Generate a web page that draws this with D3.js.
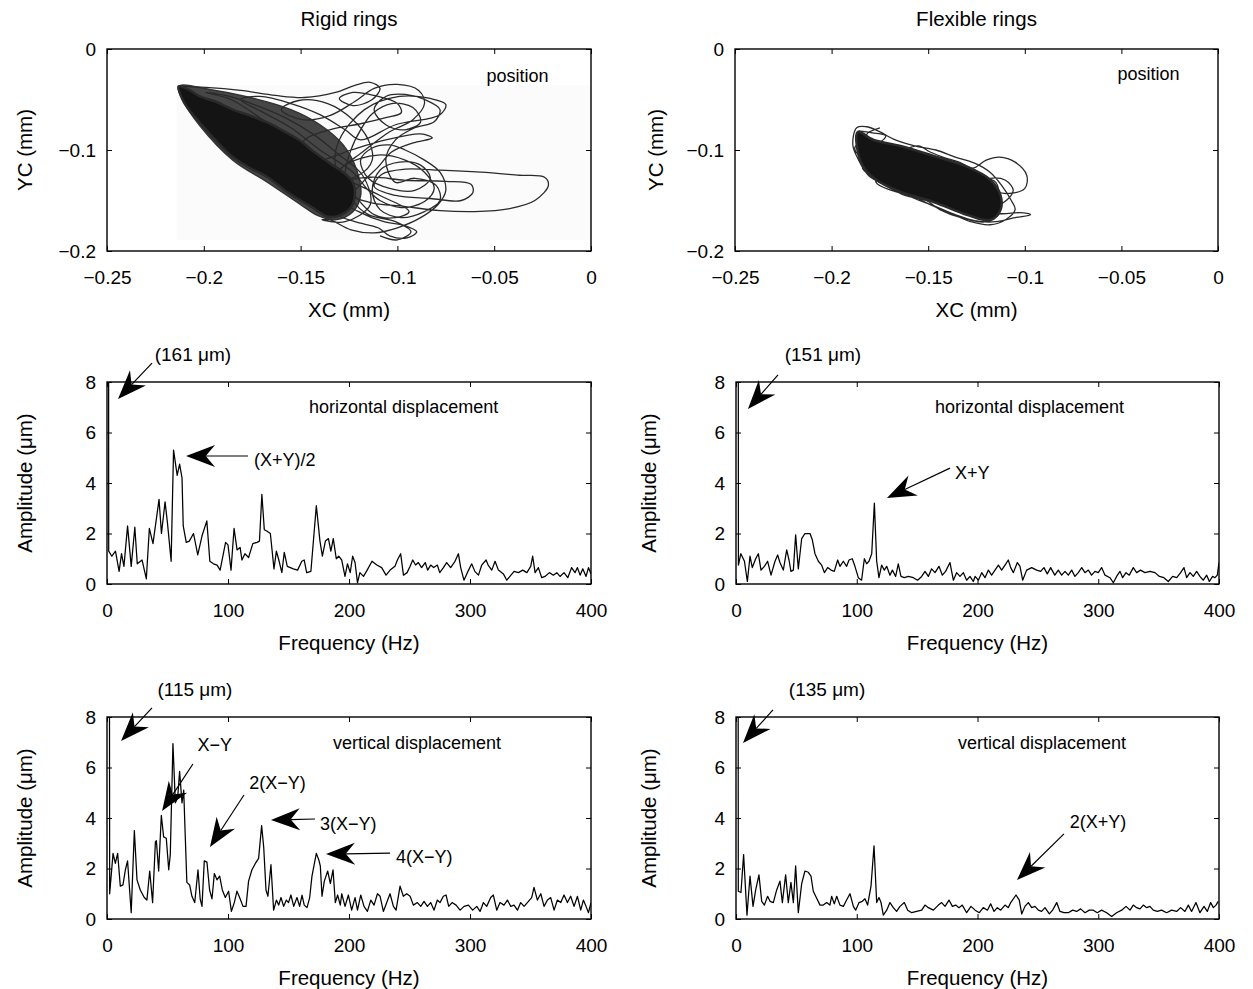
<!DOCTYPE html>
<html><head><meta charset="utf-8">
<script src="https://cdn.jsdelivr.net/npm/d3@7"></script>
<style>
body{margin:0;background:#fff;}
svg text{font-family:"Liberation Sans",Arial,Helvetica,sans-serif;fill:#000;}
</style></head><body>
<svg id="chart" width="1253" height="989"></svg>
<script>
// ---------------- DATA ----------------
const orbitXTicks = [-0.25,-0.2,-0.15,-0.1,-0.05,0];
const orbitYTicks = [0,-0.1,-0.2];
const freqTicks = [0,100,200,300,400];
const ampTicks = [0,2,4,6,8];

// rigid rings: dense envelope, densest core, trajectory loops (XC, YC in mm)
const rigidHalo = [[-0.213,-0.037],[-0.197,-0.040],[-0.176,-0.048],[-0.155,-0.060],[-0.140,-0.075],[-0.128,-0.095],[-0.121,-0.120],[-0.119,-0.145],[-0.123,-0.161],[-0.132,-0.169],[-0.141,-0.165],[-0.150,-0.154],[-0.167,-0.132],[-0.185,-0.110],[-0.202,-0.076],[-0.211,-0.050]];
const rigidCore = [[-0.213,-0.037],[-0.211,-0.050],[-0.207,-0.062],[-0.202,-0.073],[-0.194,-0.090],[-0.185,-0.107],[-0.176,-0.118],[-0.167,-0.127],[-0.158,-0.140],[-0.150,-0.150],[-0.143,-0.158],[-0.136,-0.166],[-0.130,-0.165],[-0.124,-0.157],[-0.122,-0.145],[-0.123,-0.132],[-0.128,-0.122],[-0.135,-0.113],[-0.143,-0.102],[-0.150,-0.091],[-0.159,-0.081],[-0.167,-0.073],[-0.176,-0.066],[-0.185,-0.060],[-0.194,-0.052],[-0.202,-0.047],[-0.208,-0.040]];
const rigidOrbit = [[-0.213,-0.037],[-0.199,-0.038],[-0.181,-0.041],[-0.163,-0.046],[-0.148,-0.048],[-0.132,-0.043],[-0.122,-0.036],[-0.114,-0.033],[-0.109,-0.039],[-0.113,-0.050],[-0.123,-0.056],[-0.130,-0.049],[-0.123,-0.043],[-0.112,-0.046],[-0.100,-0.054],[-0.098,-0.063],[-0.106,-0.068],[-0.119,-0.074],[-0.135,-0.080],[-0.148,-0.090],[-0.150,-0.105],[-0.140,-0.110],[-0.124,-0.100],[-0.106,-0.090],[-0.088,-0.084],[-0.082,-0.088],[-0.092,-0.093],[-0.103,-0.102],[-0.110,-0.117],[-0.118,-0.132],[-0.123,-0.145],[-0.114,-0.152],[-0.096,-0.156],[-0.078,-0.160],[-0.060,-0.161],[-0.042,-0.158],[-0.029,-0.150],[-0.022,-0.135],[-0.024,-0.127],[-0.037,-0.125],[-0.057,-0.122],[-0.078,-0.120],[-0.096,-0.119],[-0.108,-0.124],[-0.112,-0.136],[-0.101,-0.145],[-0.083,-0.148],[-0.067,-0.150],[-0.061,-0.142],[-0.062,-0.134],[-0.075,-0.131],[-0.096,-0.130],[-0.114,-0.127],[-0.127,-0.132],[-0.130,-0.148],[-0.120,-0.161],[-0.107,-0.171],[-0.096,-0.175],[-0.090,-0.181],[-0.095,-0.187],[-0.104,-0.185],[-0.110,-0.177],[-0.122,-0.171],[-0.132,-0.163],[-0.137,-0.145],[-0.131,-0.122],[-0.118,-0.102],[-0.104,-0.082],[-0.092,-0.070],[-0.086,-0.054],[-0.089,-0.041],[-0.100,-0.035],[-0.112,-0.039],[-0.122,-0.052],[-0.135,-0.066],[-0.149,-0.070],[-0.160,-0.060],[-0.151,-0.051],[-0.136,-0.054],[-0.123,-0.070],[-0.115,-0.090],[-0.113,-0.110],[-0.120,-0.125],[-0.134,-0.130],[-0.127,-0.115],[-0.110,-0.105],[-0.096,-0.110],[-0.086,-0.122],[-0.081,-0.138],[-0.086,-0.151],[-0.098,-0.157],[-0.109,-0.150],[-0.115,-0.140],[-0.123,-0.122],[-0.140,-0.100],[-0.155,-0.078],[-0.170,-0.062],[-0.181,-0.050],[-0.171,-0.047],[-0.155,-0.054],[-0.140,-0.065],[-0.127,-0.080],[-0.119,-0.090],[-0.101,-0.075],[-0.078,-0.065],[-0.075,-0.055],[-0.083,-0.049],[-0.099,-0.047],[-0.117,-0.060],[-0.130,-0.090],[-0.132,-0.115],[-0.124,-0.140],[-0.112,-0.164],[-0.101,-0.167],[-0.094,-0.161],[-0.109,-0.145],[-0.135,-0.120],[-0.155,-0.090],[-0.171,-0.068],[-0.186,-0.050],[-0.199,-0.043],[-0.189,-0.046],[-0.174,-0.055],[-0.158,-0.068],[-0.143,-0.085],[-0.130,-0.105],[-0.118,-0.125],[-0.114,-0.154],[-0.127,-0.171],[-0.139,-0.169],[-0.135,-0.169],[-0.124,-0.179],[-0.112,-0.182],[-0.100,-0.177],[-0.088,-0.167],[-0.079,-0.154],[-0.075,-0.140],[-0.078,-0.122],[-0.086,-0.110],[-0.096,-0.100],[-0.104,-0.095],[-0.113,-0.098],[-0.119,-0.110],[-0.115,-0.128],[-0.104,-0.138],[-0.091,-0.140],[-0.083,-0.128],[-0.088,-0.115],[-0.099,-0.112],[-0.109,-0.120],[-0.113,-0.140],[-0.109,-0.159],[-0.098,-0.167],[-0.086,-0.161],[-0.078,-0.150],[-0.080,-0.135],[-0.091,-0.128],[-0.101,-0.132],[-0.106,-0.110],[-0.101,-0.090],[-0.091,-0.078],[-0.081,-0.072],[-0.078,-0.060],[-0.086,-0.050],[-0.096,-0.045],[-0.106,-0.047],[-0.112,-0.060],[-0.106,-0.075],[-0.096,-0.080],[-0.088,-0.072],[-0.092,-0.058],[-0.103,-0.054],[-0.113,-0.064],[-0.119,-0.080],[-0.124,-0.100],[-0.127,-0.125],[-0.123,-0.150],[-0.115,-0.164],[-0.101,-0.171],[-0.093,-0.181],[-0.100,-0.189],[-0.109,-0.185]];

// flexible rings
const flexCore = [[-0.1865,-0.0822],[-0.1782,-0.0901],[-0.1643,-0.0960],[-0.1472,-0.1059],[-0.1296,-0.1168],[-0.1178,-0.1297],[-0.1126,-0.1446],[-0.1126,-0.1594],[-0.1178,-0.1693],[-0.1296,-0.1644],[-0.1472,-0.1515],[-0.1643,-0.1416],[-0.1782,-0.1277],[-0.1849,-0.1119]];
const flexOrbit = [[-0.186,-0.081],[-0.179,-0.083],[-0.172,-0.086],[-0.175,-0.092],[-0.182,-0.090],[-0.188,-0.098],[-0.184,-0.108],[-0.176,-0.113],[-0.167,-0.108],[-0.162,-0.100],[-0.155,-0.096],[-0.149,-0.102],[-0.141,-0.108],[-0.134,-0.112],[-0.127,-0.118],[-0.120,-0.110],[-0.113,-0.107],[-0.105,-0.112],[-0.099,-0.125],[-0.100,-0.138],[-0.108,-0.143],[-0.118,-0.140],[-0.124,-0.133],[-0.118,-0.128],[-0.110,-0.130],[-0.106,-0.140],[-0.111,-0.152],[-0.120,-0.159],[-0.113,-0.163],[-0.102,-0.162],[-0.097,-0.164],[-0.105,-0.167],[-0.115,-0.171],[-0.126,-0.170],[-0.136,-0.164],[-0.146,-0.156],[-0.157,-0.148],[-0.167,-0.138],[-0.177,-0.128],[-0.184,-0.118],[-0.180,-0.110],[-0.169,-0.115],[-0.157,-0.125],[-0.144,-0.135],[-0.131,-0.145],[-0.120,-0.150],[-0.114,-0.145],[-0.115,-0.132],[-0.126,-0.125],[-0.138,-0.120],[-0.151,-0.112],[-0.164,-0.102],[-0.175,-0.095],[-0.180,-0.100],[-0.169,-0.108],[-0.154,-0.116],[-0.138,-0.128],[-0.126,-0.140],[-0.117,-0.154],[-0.126,-0.161],[-0.138,-0.154],[-0.151,-0.145],[-0.164,-0.130],[-0.173,-0.120],[-0.180,-0.120],[-0.113,-0.161],[-0.120,-0.171],[-0.133,-0.167],[-0.144,-0.159],[-0.151,-0.150],[-0.162,-0.145],[-0.172,-0.135],[-0.181,-0.125],[-0.186,-0.110],[-0.189,-0.095],[-0.187,-0.078],[-0.182,-0.077],[-0.176,-0.081],[-0.167,-0.090],[-0.157,-0.096],[-0.146,-0.100],[-0.136,-0.107],[-0.126,-0.113],[-0.118,-0.122],[-0.112,-0.135],[-0.107,-0.150],[-0.105,-0.159],[-0.110,-0.169],[-0.118,-0.174],[-0.128,-0.171],[-0.138,-0.163],[-0.149,-0.154],[-0.159,-0.145],[-0.169,-0.140],[-0.177,-0.132],[-0.175,-0.120],[-0.164,-0.122],[-0.151,-0.130],[-0.138,-0.140],[-0.128,-0.150],[-0.120,-0.157],[-0.115,-0.154],[-0.118,-0.145],[-0.128,-0.135],[-0.141,-0.125],[-0.154,-0.115],[-0.167,-0.105],[-0.177,-0.098],[-0.182,-0.085],[-0.175,-0.078]];

// amplitude spectra [frequency Hz, amplitude um]
const rigidHoriz = [[0,161],[1.4,1.3],[4,1.1],[7,1.3],[10,0.5],[12,1.2],[14,0.7],[17,2.3],[20,0.7],[23,2.25],[25,0.8],[29,0.95],[32.5,0.2],[35,2.2],[38,1.6],[43,3.35],[45,2.0],[48,3.25],[50,2.4],[53,0.9],[55,5.3],[58,4.3],[60,4.75],[62,4.2],[63,2.3],[65.5,1.65],[68,1.7],[71.5,2.0],[75,1.15],[78.5,1.9],[82.5,2.5],[85,0.9],[88,0.8],[91,0.75],[93.5,0.55],[98,1.65],[100,1.55],[102.5,0.55],[105,2.2],[107.5,1.35],[110,1.45],[111.5,0.95],[114,1.2],[117,1.05],[120.5,1.6],[124,1.65],[126,1.7],[128,3.55],[130,2.15],[132,2.1],[135,2.0],[138,0.6],[140,1.3],[142,0.95],[144.5,0.45],[146.5,1.25],[149,0.7],[151.5,0.65],[154,0.6],[157.5,0.55],[161,0.9],[163,0.95],[165,0.45],[168.5,0.5],[173,3.1],[176,1.7],[178,1.1],[180.5,1.7],[183,1.8],[185,1.3],[187,1.8],[189.5,1.0],[191.5,1.1],[194,0.95],[196.7,0.3],[198.7,0.8],[201,0.45],[203,1.1],[205,0.85],[207,0.05],[209,0.45],[212,0.3],[215,0.55],[219,0.9],[223,0.75],[227,0.65],[230.6,0.35],[234,0.55],[238,0.7],[240,0.95],[242.7,1.2],[245,0.35],[248,0.45],[250.5,0.7],[252.7,0.95],[255,0.75],[257.3,0.85],[260,0.65],[263,0.85],[265,0.55],[267.5,0.75],[270,0.65],[273,0.75],[275,0.45],[278,0.65],[280.7,0.85],[284,0.65],[287.6,0.9],[290.4,1.2],[292.3,0.65],[295,0.15],[297.8,0.45],[301.4,0.8],[304,0.5],[307,0.35],[309.7,0.75],[313.3,0.95],[315,0.75],[318,0.55],[320.7,0.9],[323.5,0.55],[327.6,0.4],[330.4,0.15],[333,0.3],[336.4,0.5],[340,0.45],[343.6,0.55],[347,0.45],[350.2,0.7],[351.8,1.1],[353.8,0.45],[356.5,0.65],[359.3,0.25],[362,0.3],[365.6,0.45],[368.9,0.35],[371.7,0.45],[374.4,0.3],[377.7,0.45],[380.8,0.25],[384,0.65],[386.8,0.45],[388.8,0.65],[391,0.35],[393.2,0.6],[395.9,0.3],[397.9,0.65],[400,0.4]];
const flexHoriz = [[0,151],[2,0.75],[4,1.2],[7,0.9],[9.4,0.1],[11.6,1.1],[13.5,0.65],[16.3,1.0],[18.5,1.2],[20.7,0.55],[23.5,0.7],[26.2,0.9],[29,0.35],[32.3,0.9],[34.5,1.15],[36.4,0.85],[39.2,0.55],[42,1.35],[43.9,0.95],[45.5,0.5],[47.5,0.55],[49.4,1.95],[51.6,0.6],[54.4,1.8],[57.1,2.0],[61.3,2.0],[63.2,1.75],[65.4,1.2],[68.2,0.9],[70.9,0.75],[73.2,0.45],[75.9,0.65],[78.7,0.55],[81.4,0.5],[84.2,0.95],[86.1,0.7],[88.9,0.9],[91.6,0.7],[93.6,0.95],[96.3,1.0],[98.5,0.7],[101.3,0.25],[104,0.15],[106.3,1.0],[108.2,0.8],[110.1,0.9],[112.4,1.2],[114.6,3.2],[116.5,0.9],[118.4,0.25],[120.6,0.75],[122.8,0.55],[124.8,0.7],[127.5,0.35],[129.5,0.55],[132.2,0.3],[134.4,0.8],[136.6,0.3],[139.4,0.25],[142.7,0.3],[146.9,0.25],[150.4,0.15],[153.8,0.3],[156.5,0.5],[159.3,0.3],[162,0.6],[164.8,0.45],[168.1,0.7],[170.9,0.35],[173.6,0.5],[177.2,0.85],[180,0.15],[182.7,0.45],[185.5,0.3],[188.3,0.45],[191,0.15],[193.8,0.3],[196.5,0.1],[198,0.3],[200.7,0.15],[203.5,0.45],[206.2,0.25],[209,0.55],[211.7,0.35],[214.5,0.55],[217.3,0.75],[220,0.55],[222.8,0.75],[225.5,0.95],[227.5,0.65],[229.7,0.45],[233,0.85],[235.2,0.7],[237.4,0.15],[240.7,0.55],[244.9,0.65],[249,0.55],[252.3,0.5],[255,0.65],[257.8,0.4],[260.6,0.65],[264,0.35],[266.9,0.55],[269.7,0.35],[272.5,0.5],[275.2,0.35],[278,0.55],[280.7,0.3],[283.5,0.45],[286.3,0.65],[289,0.45],[291.8,0.55],[294.5,0.35],[297.3,0.5],[300,0.45],[302.8,0.65],[305.6,0.35],[309.7,0.25],[312.5,0.05],[315.2,0.3],[318,0.5],[320.2,0.25],[323,0.45],[325.7,0.35],[329,0.65],[331.8,0.45],[335,0.55],[338.7,0.45],[342.8,0.5],[347,0.45],[350.6,0.3],[354.4,0.25],[358,0.1],[361.6,0.3],[365,0.25],[368.2,0.45],[371,0.65],[373.2,0.25],[376,0.45],[378.7,0.3],[381.5,0.5],[384.2,0.3],[387,0.15],[389.8,0.35],[392,0.1],[394.7,0.3],[396.7,0.25],[398.6,0.35],[400,0.85]];
const rigidVert = [[0,115],[2.2,1.0],[5,2.6],[6.9,2.2],[8.8,2.6],[11,1.3],[13.2,1.35],[15.2,1.95],[17,2.3],[20,0.25],[22.6,3.5],[24.8,1.55],[27.5,1.15],[30.8,0.85],[33,0.75],[35.3,1.9],[37.7,0.65],[40,3.05],[40.8,3.1],[42.7,1.9],[44.9,4.1],[46.8,3.25],[49,3.2],[51,1.95],[52.3,2.55],[54.5,6.95],[56.5,4.6],[58.4,4.8],[60,5.85],[62,4.6],[63.4,5.1],[64.7,3.25],[66,1.45],[68.3,1.35],[70.2,0.9],[72.5,0.65],[75.2,1.95],[77,0.8],[78.5,0.5],[80.4,2.3],[82.6,2.25],[84.8,1.15],[86.8,0.8],[88.7,1.8],[90.9,1.55],[93.1,1.7],[95.3,1.15],[97.8,0.85],[100.5,1.1],[102.8,0.3],[105.2,0.65],[107.4,1.1],[109.6,0.85],[112.4,0.5],[114.9,0.5],[117,1.5],[119.8,1.95],[122.6,2.2],[125.3,2.4],[127.8,3.7],[129.5,2.85],[131.4,1.15],[133,0.9],[135.5,2.15],[137.7,0.35],[140,0.75],[141.9,0.55],[143.8,0.85],[146,0.5],[148.2,0.75],[150,0.65],[152,0.95],[154.3,0.5],[157,0.85],[159.2,0.5],[161.2,0.95],[163,0.55],[165.3,0.45],[167.5,0.85],[169.4,1.7],[173,2.6],[175,2.35],[176.3,2.1],[177.7,0.9],[179.6,1.5],[182.4,1.9],[184.6,1.4],[186.8,1.95],[188.7,0.65],[190.6,0.95],[192.8,0.55],[194,1.0],[196.7,0.5],[199.5,0.95],[202.2,0.35],[205,0.85],[207,0.35],[209.7,0.95],[212.4,0.5],[215.2,0.3],[218,0.75],[220.7,0.55],[223.5,1.0],[225.7,0.9],[228.4,0.3],[231.2,0.65],[233.9,1.0],[236.7,0.5],[238.9,0.35],[242.2,1.3],[244.9,0.9],[247.7,1.0],[250.5,0.9],[253.2,0.55],[256.5,0.65],[259.3,0.5],[262,0.7],[264.8,0.5],[267.5,0.65],[270.3,0.35],[273,0.75],[275.2,0.65],[278,0.9],[280.2,0.95],[282.4,0.5],[285.2,0.65],[288.5,0.55],[291.8,0.35],[295.1,0.5],[298.7,0.55],[302.2,0.35],[305.6,0.5],[308.3,0.3],[311.1,0.65],[313.8,0.5],[317.1,0.85],[319.3,0.95],[322.1,0.35],[324.8,0.65],[328.1,0.55],[330.9,0.75],[333.7,0.5],[336.4,0.55],[339.2,0.35],[341.9,0.65],[344.7,0.5],[347.4,0.65],[351,0.85],[352.9,1.25],[355.7,0.75],[358.5,1.0],[361.2,0.5],[364,0.75],[366.7,0.85],[369.5,0.35],[372.2,0.75],[375,0.65],[377.7,0.95],[380.5,0.65],[383.2,0.9],[386,0.5],[388.8,0.9],[391.5,0.35],[393.7,0.75],[395.9,0.5],[397.9,0.25],[400,0.65]];
const flexVert = [[0,135],[1.9,1.1],[4.1,1.05],[6.3,2.55],[9.1,0.15],[11.6,1.7],[14.1,0.5],[16.3,1.15],[19,1.75],[21.3,0.7],[23.5,0.55],[26.2,0.9],[28.2,0.7],[30.9,0.65],[33.7,1.15],[36.4,1.5],[38.4,0.65],[41.1,1.75],[43.3,0.65],[45.5,1.45],[47.5,0.65],[49.4,2.1],[51.6,0.25],[54.4,1.4],[57.1,1.9],[59.9,1.85],[62.1,1.7],[64,1.1],[66,0.9],[69.6,0.55],[72.3,0.55],[75.1,0.65],[77.8,0.55],[79.2,0.9],[81.4,0.6],[83.4,0.9],[86.1,0.55],[88.9,0.5],[91.6,0.75],[94.4,1.0],[97.2,0.5],[99.1,0.35],[101.9,0.65],[104.6,0.7],[106.8,0.8],[109,0.55],[111.8,1.3],[114.3,2.9],[116.5,0.65],[118.4,0.85],[120.1,0.65],[122,0.15],[124.8,0.35],[127.5,0.65],[130.3,0.45],[133,0.3],[135.8,0.5],[139.4,0.65],[142.2,0.35],[145.5,0.25],[149.6,0.3],[153.8,0.35],[156.5,0.55],[159.3,0.45],[163.4,0.35],[167.6,0.55],[170.3,0.65],[173.1,0.5],[176.4,0.75],[179.2,0.5],[181.9,0.55],[184.7,0.45],[187.4,0.55],[191,0.25],[194.6,0.5],[198,0.35],[201.5,0.25],[204.8,0.45],[208.2,0.35],[210.9,0.6],[213.7,0.3],[216.4,0.45],[219.2,0.35],[222.8,0.55],[225.5,0.45],[227.5,0.65],[231.9,0.95],[234.6,0.75],[236.6,0.2],[239.3,0.5],[242.1,0.65],[244.9,0.45],[247.6,0.5],[250.4,0.35],[253.1,0.3],[255.9,0.45],[259.5,0.2],[262.2,0.35],[265.6,0.65],[268.3,0.3],[271.6,0.25],[275.2,0.25],[278.8,0.35],[282.1,0.3],[285.4,0.4],[289,0.25],[292.6,0.35],[295.9,0.35],[299.2,0.25],[302.8,0.35],[307,0.25],[311.1,0.1],[315.2,0.25],[319.4,0.35],[323,0.5],[326.3,0.35],[329,0.55],[331.8,0.45],[334.6,0.4],[337.3,0.55],[340.1,0.45],[342.8,0.5],[345.6,0.35],[348.9,0.3],[352.5,0.35],[356.6,0.25],[360.8,0.35],[364.9,0.3],[368.2,0.45],[371.8,0.3],[374.6,0.55],[377.3,0.3],[380.9,0.65],[384.2,0.25],[387.6,0.5],[390.3,0.3],[393.1,0.65],[395.3,0.45],[397.5,0.55],[399.4,0.7]];

// ---------------- ANNOTATIONS (anchored in data units) ----------------
const annRigidPos = {texts:[["position",-0.054,-0.033,"start"]], arrows:[]};
const annFlexPos  = {texts:[["position",-0.052,-0.031,"start"]], arrows:[]};
const annRigidH = {texts:[["(161 μm)",71,8.83,"middle",1],["(X+Y)/2",121.5,4.67,"start"],["horizontal displacement",167,6.77,"start"]],
  arrows:[[[37.2,8.75],[9.1,7.33]],[[116.5,5.07],[65.3,5.07]]]};
const annFlexH = {texts:[["(151 μm)",72,8.83,"middle",1],["X+Y",181.4,4.16,"start"],["horizontal displacement",164.8,6.77,"start"]],
  arrows:[[[34.8,8.28],[9.9,6.93]],[[177.2,4.59],[125,3.41]]]};
const annRigidV = {texts:[["(115 μm)",72.7,8.83,"middle",1],["X−Y",89,6.65,"middle"],["2(X−Y)",141,5.15,"middle"],["3(X−Y)",176,3.52,"start"],["4(X−Y)",238.8,2.22,"start"],["vertical displacement",186.8,6.73,"start"]],
  arrows:[[[37.2,8.36],[11.6,7.05]],[[71,6.14],[45.5,4.28]],[[113.2,4.91],[85.1,2.85]],[[171.9,3.96],[135.5,3.92]],[[233.9,2.61],[181,2.57]]]};
const annFlexV = {texts:[["(135 μm)",75.4,8.83,"middle",1],["vertical displacement",183.9,6.73,"start"],["2(X+Y)",299.8,3.6,"middle"]],
  arrows:[[[30.6,8.28],[5.8,6.97]],[[271.6,3.37],[232.7,1.54]]]};

// ---------------- LAYOUT ----------------
const svg = d3.select("#chart");
const FONT = '"Liberation Sans", Arial, Helvetica, sans-serif';
const TICK_FS = 19, LABEL_FS = 20.5, ANN_FS = 18, ANN_BIG_FS = 19;

const panels = [
  {kind:"orbit", x0:107, x1:591, y0:49, y1:251, halo:rigidHalo, core:rigidCore, orbit:rigidOrbit, ann:annRigidPos, ylabX:32, backdrop:true},
  {kind:"orbit", x0:735, x1:1218, y0:49, y1:251, halo:null, core:flexCore, orbit:flexOrbit, ann:annFlexPos, ylabX:663},
  {kind:"spec", x0:107, x1:591, y0:382, y1:584, data:rigidHoriz, ann:annRigidH, ylabX:32},
  {kind:"spec", x0:736, x1:1219, y0:382, y1:584, data:flexHoriz, ann:annFlexH, ylabX:656},
  {kind:"spec", x0:107, x1:591, y0:717, y1:919, data:rigidVert, ann:annRigidV, ylabX:32},
  {kind:"spec", x0:736, x1:1219, y0:717, y1:919, data:flexVert, ann:annFlexV, ylabX:656}
];

const fmtOrbit = d => d === 0 ? "0" : "\u2212" + Math.abs(d);
const fmtPlain = d => String(d);

function drawArrow(g, p1, p2) {
  const dx = p2[0]-p1[0], dy = p2[1]-p1[1], len = Math.hypot(dx,dy);
  const ux = dx/len, uy = dy/len, nx = -uy, ny = ux;
  const L = 29, Wd = 11, N = 0.68*L;
  const bx = p2[0]-ux*L, by = p2[1]-uy*L;
  const nt = [p2[0]-ux*N, p2[1]-uy*N];
  g.append("line").attr("x1",p1[0]).attr("y1",p1[1]).attr("x2",nt[0]).attr("y2",nt[1])
    .attr("stroke","#000").attr("stroke-width",1.2);
  g.append("path")
    .attr("d",`M${p2[0]},${p2[1]}L${bx+nx*Wd},${by+ny*Wd}L${nt[0]},${nt[1]}L${bx-nx*Wd},${by-ny*Wd}Z`)
    .attr("fill","#000");
}

panels.forEach((p, i) => {
  const w = p.x1 - p.x0, h = p.y1 - p.y0;
  const g = svg.append("g").attr("transform",`translate(${p.x0},${p.y0})`);
  let x, y, xTicks, yTicks, xFmt, yFmt;
  if (p.kind === "orbit") {
    x = d3.scaleLinear().domain([-0.25,0]).range([0,w]);
    y = d3.scaleLinear().domain([-0.2,0]).range([h,0]);
    xTicks = orbitXTicks; yTicks = orbitYTicks; xFmt = fmtOrbit; yFmt = fmtOrbit;
  } else {
    x = d3.scaleLinear().domain([0,400]).range([0,w]);
    y = d3.scaleLinear().domain([0,8]).range([h,0]);
    xTicks = freqTicks; yTicks = ampTicks; xFmt = fmtPlain; yFmt = fmtPlain;
  }
  const clipId = "clip" + i;
  g.append("clipPath").attr("id",clipId).append("rect").attr("width",w).attr("height",h);
  const plot = g.append("g").attr("clip-path",`url(#${clipId})`);

  if (p.kind === "orbit") {
    if (p.backdrop) {
      plot.append("rect").attr("x",x(-0.214)).attr("y",y(-0.036))
        .attr("width",x(0)-x(-0.214)).attr("height",y(-0.189)-y(-0.036)).attr("fill","#fbfbfb");
    }
    const lin = () => d3.line().x(d=>x(d[0])).y(d=>y(d[1]));
    if (p.halo) {
      plot.append("path").datum(p.halo)
        .attr("d", lin().curve(d3.curveCatmullRomClosed.alpha(0.5)))
        .attr("fill","#262626").attr("fill-opacity",0.85).attr("stroke","#333").attr("stroke-width",1.5);
    }
    plot.append("path").datum(p.orbit)
      .attr("d", lin().curve(d3.curveCatmullRom.alpha(0.5)))
      .attr("fill","none").attr("stroke","#2a2a2a").attr("stroke-width",1.3).attr("stroke-linejoin","round");
    plot.append("path").datum(p.core)
      .attr("d", lin().curve(d3.curveCatmullRomClosed.alpha(0.5)))
      .attr("fill","#141414").attr("stroke","#2a2a2a").attr("stroke-width",2.5).attr("stroke-linejoin","round");
  } else {
    plot.append("path").datum(p.data)
      .attr("d", d3.line().x(d=>x(d[0])).y(d=>y(d[1])))
      .attr("fill","none").attr("stroke","#000").attr("stroke-width",1.25).attr("stroke-linejoin","round");
  }

  // axes
  const mk = (axis) => axis.tickSizeInner(-5).tickSizeOuter(0);
  const bot = g.append("g").attr("transform",`translate(0,${h})`)
    .call(mk(d3.axisBottom(x)).tickValues(xTicks).tickPadding(20).tickFormat(xFmt));
  const top = g.append("g").call(mk(d3.axisTop(x)).tickValues(xTicks).tickFormat(()=>""));
  const left = g.append("g").call(mk(d3.axisLeft(y)).tickValues(yTicks).tickPadding(11).tickFormat(yFmt));
  const right = g.append("g").attr("transform",`translate(${w},0)`)
    .call(mk(d3.axisRight(y)).tickValues(yTicks).tickFormat(()=>""));
  [bot,top,left,right].forEach(a => {
    a.select(".domain").remove();
    a.attr("font-family",FONT).attr("font-size",TICK_FS);
    a.selectAll("line").attr("stroke","#000").attr("stroke-width",1);
    a.selectAll("text").attr("fill","#000");
  });
  g.append("rect").attr("width",w).attr("height",h).attr("fill","none")
    .attr("stroke","#000").attr("stroke-width",1.4);

  // axis labels
  const isOrbit = p.kind === "orbit";
  g.append("text").attr("x",w/2).attr("y",h+66).attr("text-anchor","middle")
    .attr("font-size",LABEL_FS).text(isOrbit ? "XC (mm)" : "Frequency (Hz)");
  svg.append("text").attr("transform",`translate(${p.ylabX},${p.y0+h/2}) rotate(-90)`)
    .attr("text-anchor","middle").attr("font-size",LABEL_FS)
    .text(isOrbit ? "YC (mm)" : "Amplitude (\u03bcm)");

  // annotations
  const ag = g.append("g");
  p.ann.arrows.forEach(a => drawArrow(ag, [x(a[0][0]),y(a[0][1])], [x(a[1][0]),y(a[1][1])]));
  p.ann.texts.forEach(t => {
    ag.append("text").attr("x",x(t[1])).attr("y",y(t[2])).attr("text-anchor",t[3])
      .attr("font-size", t[4] ? ANN_BIG_FS : ANN_FS).text(t[0]);
  });
});

// column titles
svg.append("text").attr("x",349).attr("y",26).attr("text-anchor","middle").attr("font-size",LABEL_FS).text("Rigid rings");
svg.append("text").attr("x",976.5).attr("y",26).attr("text-anchor","middle").attr("font-size",LABEL_FS).text("Flexible rings");
</script>
</body></html>
